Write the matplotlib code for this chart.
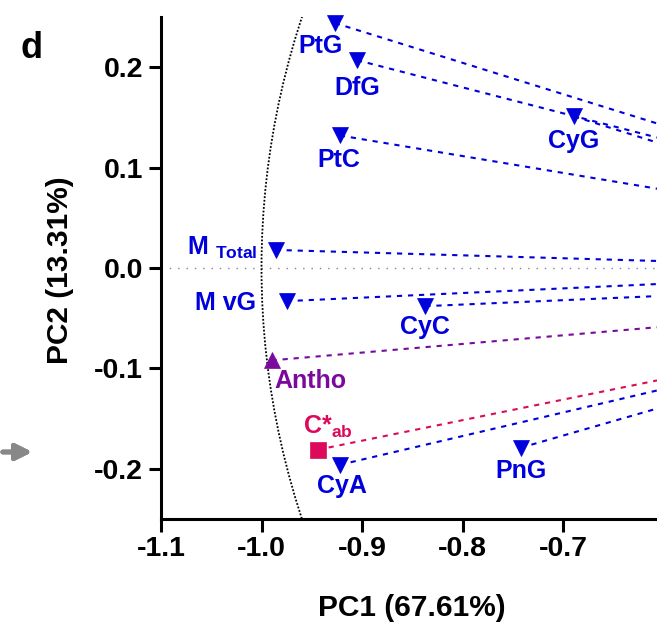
import numpy as np
import matplotlib
matplotlib.use('Agg')
import matplotlib.pyplot as plt
from matplotlib.patches import Ellipse

plt.rcParams['font.family'] = ['Liberation Sans', 'DejaVu Sans']
plt.rcParams['font.weight'] = 'bold'
plt.rcParams['axes.unicode_minus'] = False
plt.rcParams['mathtext.fontset'] = 'custom'
plt.rcParams['mathtext.bf'] = 'Liberation Sans:bold'
plt.rcParams['mathtext.rm'] = 'Liberation Sans:bold'
plt.rcParams['mathtext.default'] = 'bf'

# loadings
names = ['PtG', 'DfG', 'CyG', 'PtC', 'M $_{Total}$', 'M vG', 'CyC', 'Antho', 'C*$_{ab}$', 'CyA', 'PnG']
pc1 = [-0.927, -0.905, -0.689, -0.922, -0.986, -0.975, -0.837, -0.990, -0.944, -0.922, -0.742]
pc2 = [0.244, 0.207, 0.151, 0.132, 0.018, -0.033, -0.038, -0.092, -0.181, -0.196, -0.179]
# where each dashed line leaves the right edge of the plot
line_end_pc2 = [0.144, 0.130, 0.125, 0.079, 0.007, -0.016, -0.028, -0.059, -0.112, -0.122, -0.140]
groups = ['pig', 'pig', 'pig', 'pig', 'pig', 'pig', 'pig', 'antho', 'cab', 'pig', 'pig']

xticks = [-1.1, -1.0, -0.9, -0.8, -0.7]
yticks = [-0.2, -0.1, 0.0, 0.1, 0.2]

colors = {'pig': '#0000dd', 'antho': '#7a0a9c', 'cab': '#dc0a5a'}
markers = {'pig': 'v', 'antho': '^', 'cab': 's'}
# label placement (pixel offsets from marker, ha)
lab_off = [(-14, -30, 'center'), (0, -35, 'center'), (0, -32, 'center'), (-1, -32, 'center'),
           (-18, -5, 'right'), (-31, -9, 'right'), (0, -28, 'center'), (3, -28, 'left'),
           (-15, 16, 'left'), (2, -28, 'center'), (0, -30, 'center')]

fig = plt.figure(figsize=(6.57, 6.28), dpi=100)
ax = fig.add_axes([161/657, 1-519/628, 1-161/657, 502/628])
ax.set_xlim(-1.1, -0.6065)
ax.set_ylim(-0.25, 0.25)

xmax = ax.get_xlim()[1]
ax.axhline(0, color='#8080a0', ls=(0, (1, 5)), lw=1, zorder=1)
ax.add_patch(Ellipse((0, 0), 2.0, 1.78, fill=False, ec='black', ls=(0, (1, 1)), lw=1.3, zorder=1))

for i in range(len(names)):
    c = colors[groups[i]]
    ax.plot([pc1[i], xmax], [pc2[i], line_end_pc2[i]], color=c, ls=(0, (2.5, 2.8)), lw=1.5, zorder=2)
    ax.plot(pc1[i], pc2[i], marker=markers[groups[i]], ms=11.5, color=c, mec=c, mew=0.5,
            ls='none', zorder=3, clip_on=False)
    dx, dy, ha = lab_off[i]
    ax.annotate(names[i], (pc1[i], pc2[i]), xytext=(dx/1.389, dy/1.389), textcoords='offset points',
                ha=ha, va='baseline', color=c, fontsize=18, fontweight='bold')

for s in ['top', 'right']:
    ax.spines[s].set_visible(False)
for s in ['left', 'bottom']:
    ax.spines[s].set_linewidth(2.2)
ax.set_xticks(xticks)
ax.set_yticks(yticks)
ax.set_xticklabels(['%.1f' % v for v in xticks])
ax.set_yticklabels(['%.1f' % v for v in yticks])
ax.tick_params(length=9, width=2.2, labelsize=20.5, direction='out')
ax.tick_params(axis='x', pad=3)
ax.tick_params(axis='y', pad=4)
for t in ax.get_xticklabels() + ax.get_yticklabels():
    t.set_fontweight('bold')

ax.set_xlabel('PC1 (67.61%)', fontsize=21.5, fontweight='bold', va='center')
ax.xaxis.set_label_coords((412-161)/496, (519-608)/502)
ax.set_ylabel('PC2 (13.31%)', fontsize=21.5, fontweight='bold', va='center')
ax.yaxis.set_label_coords((60-161)/496, (519-270)/502)

fig.text(20/657, 1-58/628, 'd', fontsize=26, fontweight='bold', va='baseline')
fig.add_artist(plt.annotate('', xy=(35/657, 1-452/628), xytext=(0, 1-452/628),
                            xycoords='figure fraction', textcoords='figure fraction',
                            arrowprops=dict(arrowstyle='-|>', color='#888888', lw=3.5, mutation_scale=24)))

fig.savefig('out.png', dpi=100)
